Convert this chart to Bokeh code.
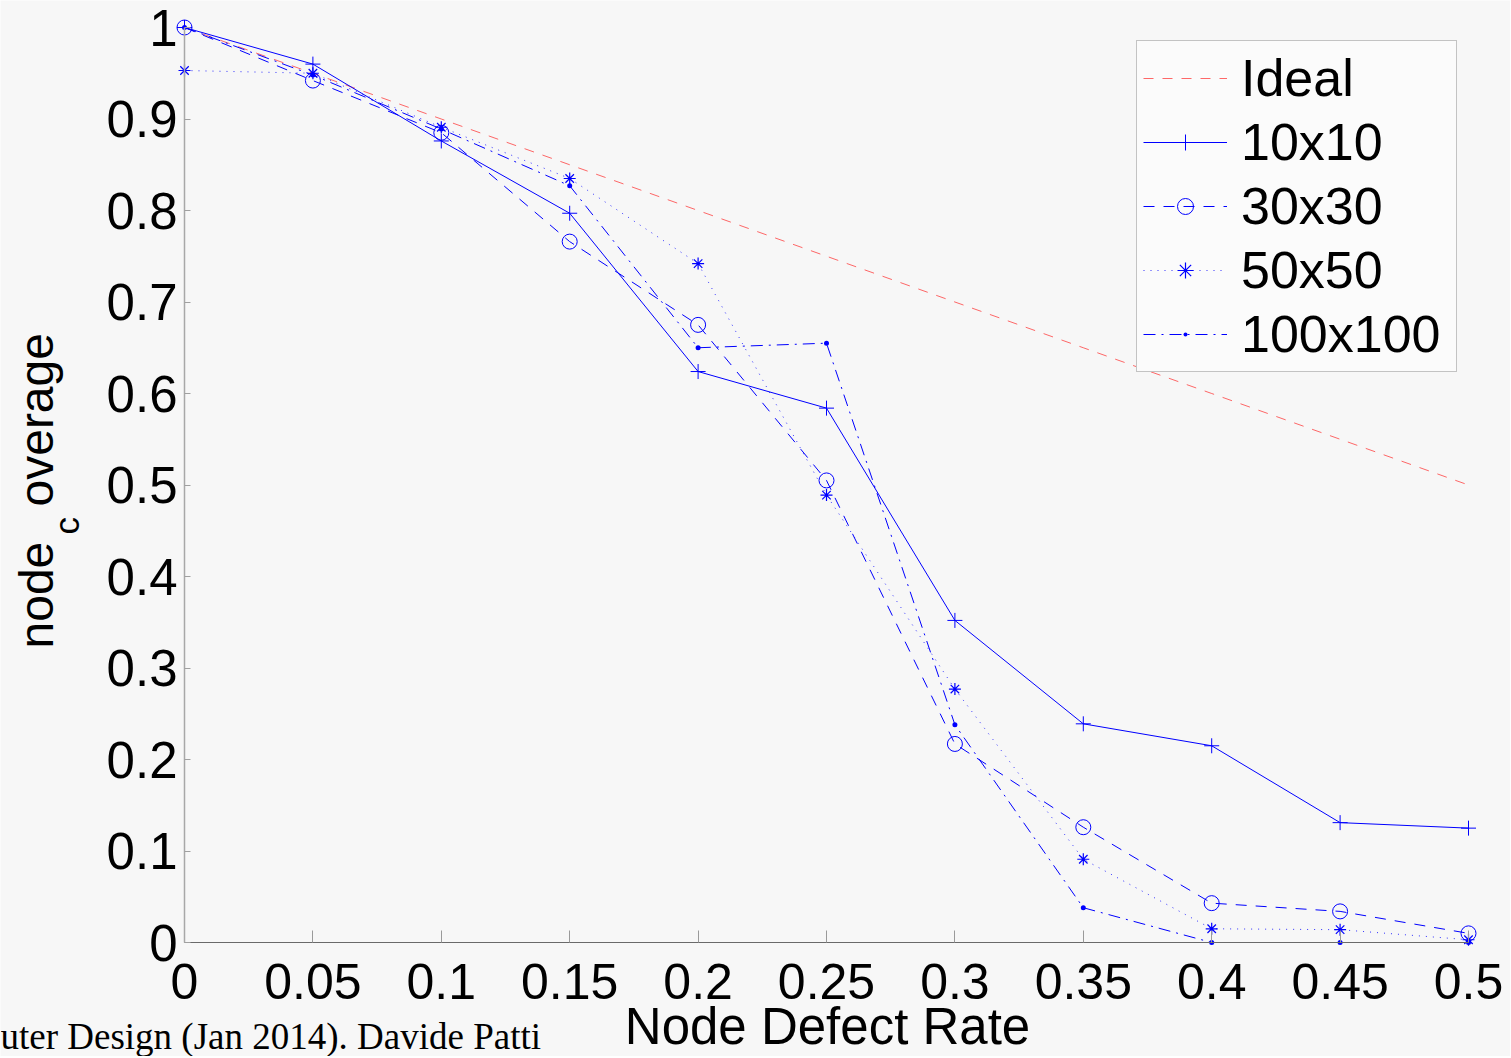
from math import pi
from bokeh.plotting import figure
from bokeh.models import Range1d, FixedTicker, Label, Legend, LegendItem
from bokeh.embed import file_html
from bokeh.resources import INLINE

# ---------------- data ----------------
defect_rate = [0.0, 0.05, 0.10, 0.15, 0.20, 0.25, 0.30, 0.35, 0.40, 0.45, 0.50]
ideal = [1.0, 0.95, 0.90, 0.85, 0.80, 0.75, 0.70, 0.65, 0.60, 0.55, 0.50]
mesh_10x10 = [1.0, 0.960, 0.876, 0.797, 0.624, 0.584, 0.352, 0.239, 0.215, 0.131, 0.125]
mesh_30x30 = [1.0, 0.942, 0.885, 0.766, 0.675, 0.505, 0.217, 0.126, 0.043, 0.034, 0.010]
mesh_50x50 = [0.953, 0.950, 0.891, 0.835, 0.742, 0.489, 0.277, 0.091, 0.015, 0.014, 0.003]
mesh_100x100 = [1.0, 0.948, 0.889, 0.827, 0.650, 0.655, 0.238, 0.038, 0.0, 0.0, 0.0]

series_labels = ["Ideal", "10x10", "30x30", "50x50", "100x100"]

x_ticks = [0.0, 0.05, 0.10, 0.15, 0.20, 0.25, 0.30, 0.35, 0.40, 0.45, 0.50]
x_tick_labels = ["0", "0.05", "0.1", "0.15", "0.2", "0.25", "0.3", "0.35", "0.4", "0.45", "0.5"]
y_ticks = [0.0, 0.1, 0.2, 0.3, 0.4, 0.5, 0.6, 0.7, 0.8, 0.9, 1.0]
y_tick_labels = ["0", "0.1", "0.2", "0.3", "0.4", "0.5", "0.6", "0.7", "0.8", "0.9", "1"]

x_title = "Node Defect Rate"
y_title_parts = ["node", "c", "overage"]
caption = "uter Design (Jan 2014). Davide Patti"

# ---------------- layout ----------------
# the plot frame covers the whole canvas; axes are pinned at x=0 / y=0
W, H = 1510, 1056
X0, XPX = 184, 2568.0   # canvas x of x=0, pixels per x unit
Y0, YPX = 942, 915.0    # canvas y of y=0, pixels per y unit

BG = "#f7f7f7"
BLUE = "#0000ff"
FONT = "Liberation Sans"

p = figure(width=W, height=H, output_backend="svg", toolbar_location=None,
           x_range=Range1d(-X0 / XPX, (W - X0) / XPX),
           y_range=Range1d(-(H - Y0) / YPX, Y0 / YPX),
           background_fill_color=BG, border_fill_color=BG)
p.min_border = 0
p.outline_line_color = None
p.grid.visible = False

# axes
p.xaxis.fixed_location = 0
p.yaxis.fixed_location = 0
p.xaxis.bounds = (0, 0.5)
p.yaxis.bounds = (0, 1)
p.xaxis.ticker = FixedTicker(ticks=x_ticks)
p.yaxis.ticker = FixedTicker(ticks=y_ticks)
p.xaxis.major_label_overrides = {t: l for t, l in zip(x_ticks, x_tick_labels)}
p.yaxis.major_label_overrides = {t: l for t, l in zip(y_ticks, y_tick_labels)}
for ax in (p.xaxis, p.yaxis):
    ax.major_label_text_font = FONT
    ax.major_label_text_color = "black"
    ax.minor_tick_line_color = None
    ax.major_tick_out = 0
p.xaxis.major_label_text_font_size = "50px"
p.yaxis.major_label_text_font_size = "51px"
p.xaxis.axis_line_color = "#6a6a6a"
p.xaxis.major_tick_line_color = "#9a9a9a"
p.xaxis.major_tick_in = 12
p.xaxis.major_label_standoff = 21
p.yaxis.axis_line_color = "#a8a8a8"
p.yaxis.axis_line_width = 1.5
p.yaxis.major_tick_line_color = "#a0a0a0"
p.yaxis.major_tick_in = 6
p.yaxis.major_label_standoff = 7

# series
r_ideal = p.line(defect_rate, ideal, line_color="#ff2a2a", line_alpha=0.7,
                 line_width=1, line_dash="10 9")

l10 = p.line(defect_rate, mesh_10x10, line_color=BLUE, line_width=1)
m10 = p.scatter(defect_rate, mesh_10x10, marker="cross", size=15,
                line_color=BLUE, line_width=1)

l30 = p.line(defect_rate, mesh_30x30, line_color=BLUE, line_width=1, line_dash="11 9")
m30 = p.scatter(defect_rate, mesh_30x30, marker="circle", size=15,
                line_color=BLUE, line_width=1, fill_alpha=0)

l50 = p.line(defect_rate, mesh_50x50, line_color=BLUE, line_width=1,
             line_dash="1 6", line_alpha=0.8)
m50 = p.scatter(defect_rate, mesh_50x50, marker="asterisk", size=12,
                line_color=BLUE, line_width=1.2)

l100 = p.line(defect_rate, mesh_100x100, line_color=BLUE, line_width=1,
              line_dash="12 6 2 6")
m100 = p.scatter(defect_rate, mesh_100x100, marker="dot", size=20,
                 line_color=BLUE, fill_color=BLUE)

legend = Legend(items=[
    LegendItem(label=series_labels[0], renderers=[r_ideal]),
    LegendItem(label=series_labels[1], renderers=[l10, m10]),
    LegendItem(label=series_labels[2], renderers=[l30, m30]),
    LegendItem(label=series_labels[3], renderers=[l50, m50]),
    LegendItem(label=series_labels[4], renderers=[l100, m100]),
], location=(1136, H - 372))
legend.padding = 6
legend.spacing = 2
legend.label_height = 62
legend.glyph_height = 40
legend.glyph_width = 84
legend.label_standoff = 14
legend.label_width = 209
legend.label_text_font = FONT
legend.label_text_font_size = "52px"
legend.label_text_color = "black"
legend.border_line_color = "#8c8c8c"
legend.border_line_width = 1
legend.background_fill_color = "#fbfbfb"
legend.background_fill_alpha = 1.0
p.add_layout(legend)


# texts placed by pixel coordinates through the plot's scales
def dx(px):
    return (px - X0) / XPX


def dy(py):
    return (Y0 - py) / YPX


# text is anchored at the middle of its box: shift from the baseline
MID = 0.3465

for text, base_x, start_y, fs in [(y_title_parts[0], 53, 648, 48),
                                  (y_title_parts[1], 78, 534, 35),
                                  (y_title_parts[2], 53, 506, 48)]:
    p.add_layout(Label(x=dx(base_x - MID * fs), y=dy(start_y), text=text,
                       angle=pi / 2, text_align="left", text_baseline="middle",
                       text_font=FONT, text_font_size=f"{fs}px",
                       text_color="black"))

p.add_layout(Label(x=dx(827), y=dy(1044 - MID * 51), text=x_title,
                   text_align="center", text_baseline="middle", text_font=FONT,
                   text_font_size="51px", text_color="black"))
p.add_layout(Label(x=dx(0), y=dy(1048 - 0.3375 * 37), text=caption,
                   text_align="left", text_baseline="middle",
                   text_font="Liberation Serif", text_font_size="37px",
                   text_color="black"))

open("out.html", "w").write(file_html(p, INLINE))
